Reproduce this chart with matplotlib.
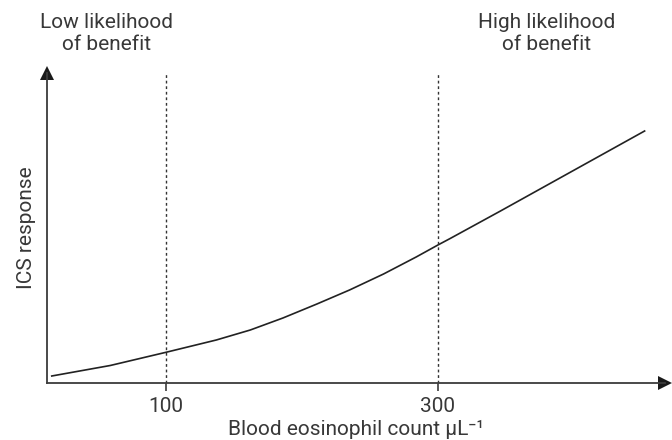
import matplotlib
matplotlib.use("Agg")
import matplotlib.pyplot as plt

plt.rcParams['font.family'] = ['Roboto', 'DejaVu Sans']

# curve (x in cells per uL, y in arbitrary response units)
eos = [16, 59, 100, 137, 162, 186, 211, 235, 260, 284, 300, 309, 346, 399, 452]
response = [7, 17.5, 30.7, 43, 53, 65, 79, 93, 109, 126, 138, 144.5, 172, 212, 252]
cutoffs = [100, 300]
cutoff_labels = ["100", "300"]

x_min, x_max = 12.5, 467
y_min, y_max = 0, 310

txt = "#383838"
axc = "#3c3c3c"
fs = 15

fig = plt.figure(figsize=(6.72, 4.4), dpi=100)
ax = fig.add_axes([47/672, 57/440, 618/672, 310/440])

ax.plot(eos, response, color="#222222", lw=1.2)

for c in cutoffs:
    ax.axvline(c, color="#333333", lw=1.0, ls=(0, (2, 2)))

ax.set_xlim(x_min, x_max)
ax.set_ylim(y_min, y_max)

for s in ["top", "right"]:
    ax.spines[s].set_visible(False)
for s in ["left", "bottom"]:
    ax.spines[s].set_color(axc)
    ax.spines[s].set_linewidth(1.3)

# arrow heads at the axis ends
ax.plot([x_max], [y_min], marker=">", ms=10, color="#1a1a1a", clip_on=False,
        markeredgewidth=0)
ax.plot([x_min], [y_max], marker="^", ms=10, color="#1a1a1a", clip_on=False,
        markeredgewidth=0)

ax.set_xticks(cutoffs)
ax.set_xticklabels(cutoff_labels)
ax.set_yticks([])
ax.tick_params(axis="x", length=6, width=1.2, color=axc, labelsize=fs,
               labelcolor=txt, pad=4)

ax.set_xlabel("Blood eosinophil count µL⁻¹", fontsize=fs, color=txt, labelpad=3)
ax.set_ylabel("ICS response", fontsize=fs, color=txt, labelpad=8)

fig.text(107/672, 1 - 34/440, "Low likelihood\nof benefit", ha="center", va="center",
         fontsize=fs, color=txt, linespacing=1.2)
fig.text(547/672, 1 - 34/440, "High likelihood\nof benefit", ha="center", va="center",
         fontsize=fs, color=txt, linespacing=1.2)

fig.savefig("out.png", dpi=100)
